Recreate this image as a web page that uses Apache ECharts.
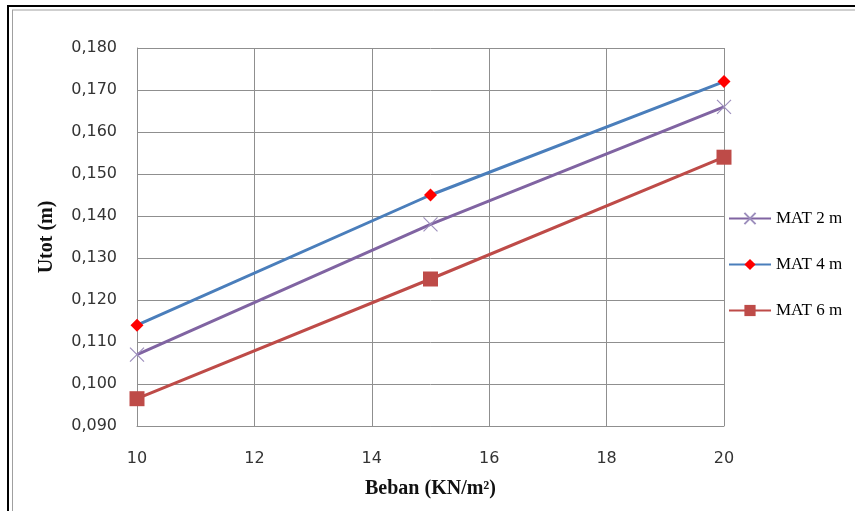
<!DOCTYPE html>
<html>
<head>
<meta charset="utf-8">
<script src="https://cdn.jsdelivr.net/npm/echarts@6/dist/echarts.min.js"></script>
<style>
  html, body { margin: 0; padding: 0; background: #fff; }
  #chart { width: 855px; height: 511px; }
</style>
</head>
<body>
<div id="chart"></div>
<script>
// Load (KN/m²) on the x axis
const beban = [10, 15, 20];
// Total settlement Utot (m) for each groundwater depth
const mat2 = [0.107, 0.138, 0.166];
const mat4 = [0.114, 0.145, 0.172];
const mat6 = [0.0965, 0.125, 0.154];
const seriesNames = ['MAT 2 m', 'MAT 4 m', 'MAT 6 m'];

const pairs = ys => beban.map((x, i) => [x, ys[i]]);

const gridColor = '#8f8f8f';
const labelFont = { fontFamily: 'DejaVu Sans', fontSize: 16, color: '#333' };

const chart = echarts.init(document.getElementById('chart'));
chart.setOption({
  backgroundColor: '#fff',
  animation: false,
  grid: { left: 137, right: 131, top: 48, bottom: 85 },
  xAxis: {
    type: 'value', min: 10, max: 20, interval: 2,
    name: 'Beban (KN/m²)', nameLocation: 'middle', nameGap: 53,
    nameTextStyle: { fontFamily: 'Liberation Serif', fontWeight: 'bold', fontSize: 20, color: '#111' },
    axisLine: { lineStyle: { color: gridColor } },
    axisTick: { show: false },
    axisLabel: Object.assign({ margin: 25 }, labelFont),
    splitLine: { show: true, lineStyle: { color: gridColor } }
  },
  yAxis: {
    type: 'value', min: 0.09, max: 0.18, interval: 0.01,
    name: 'Utot (m)', nameLocation: 'middle', nameGap: 80,
    nameTextStyle: { fontFamily: 'Liberation Serif', fontWeight: 'bold', fontSize: 20, color: '#111' },
    axisLine: { show: true, lineStyle: { color: gridColor } },
    axisTick: { show: false },
    axisLabel: Object.assign({ margin: 20, formatter: v => v.toFixed(3).replace('.', ',') }, labelFont),
    splitLine: { show: true, lineStyle: { color: gridColor } }
  },
  legend: {
    orient: 'vertical', left: 728, top: 210, padding: 0,
    itemWidth: 42, itemHeight: 14, itemGap: 29,
    textStyle: { fontFamily: 'Liberation Serif', fontSize: 17, color: '#000' },
    data: seriesNames
  },
  series: [
    {
      name: seriesNames[0], type: 'line', data: pairs(mat2),
      symbol: 'path://M0,0L10,10M10,0L0,10', symbolSize: 14,
      lineStyle: { color: '#8064a2', width: 3 },
      itemStyle: { color: '#8064a2', borderColor: '#9d8fbd', borderWidth: 1.2 }
    },
    {
      name: seriesNames[1], type: 'line', data: pairs(mat4),
      symbol: 'diamond', symbolSize: 13,
      lineStyle: { color: '#4a7ebb', width: 3 },
      itemStyle: { color: '#ff0000' }
    },
    {
      name: seriesNames[2], type: 'line', data: pairs(mat6),
      symbol: 'rect', symbolSize: 15,
      lineStyle: { color: '#be4b48', width: 3 },
      itemStyle: { color: '#be4b48' }
    }
  ],
  graphic: [
    { type: 'line', shape: { x1: 7, y1: 6, x2: 855, y2: 6 }, style: { stroke: '#000', lineWidth: 2 } },
    { type: 'line', shape: { x1: 8, y1: 6, x2: 8, y2: 511 }, style: { stroke: '#000', lineWidth: 2 } },
    { type: 'line', shape: { x1: 12, y1: 10, x2: 855, y2: 10 }, style: { stroke: '#a0a0a0', lineWidth: 1 } },
    { type: 'line', shape: { x1: 12.5, y1: 10, x2: 12.5, y2: 511 }, style: { stroke: '#a0a0a0', lineWidth: 1 } }
  ]
});
</script>
</body>
</html>
